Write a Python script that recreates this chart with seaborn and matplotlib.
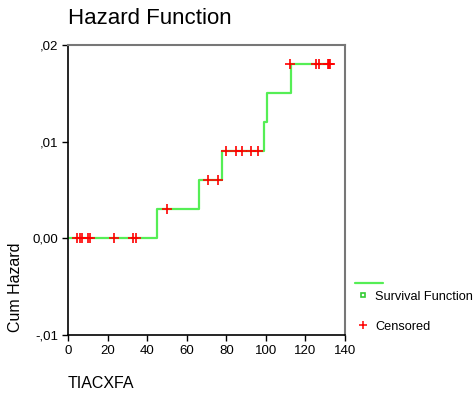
import matplotlib
matplotlib.use("Agg")
import matplotlib.pyplot as plt
from matplotlib.lines import Line2D
from matplotlib.ticker import FuncFormatter
import seaborn as sns
import pandas as pd

# Cumulative hazard step function
step_times = [0, 45, 66, 78, 99, 100.5, 112.5, 132]
cum_hazard = [0.0, 0.003, 0.006, 0.009, 0.012, 0.015, 0.018, 0.018]

# Censored observations
cens_times = [4.5, 6, 7, 10, 11, 23, 33, 34.5,
              50,
              71, 76,
              80, 85, 88, 92.5, 96,
              112, 125.5, 127, 131.5, 132, 132.5]
cens_hazard = [0.0] * 8 + [0.003] + [0.006] * 2 + [0.009] * 5 + [0.018] * 6

x_ticks = [0, 20, 40, 60, 80, 100, 120, 140]
y_ticks = [-0.01, 0.0, 0.01, 0.02]
y_tick_labels = {-0.01: "-,01", 0.0: "0,00", 0.01: ",01", 0.02: ",02"}

sns.set_style("white")
plt.rcParams["font.family"] = ["Liberation Sans", "DejaVu Sans"]
plt.rcParams["text.color"] = "black"
plt.rcParams["axes.labelcolor"] = "black"

W, H = 476, 398
fig = plt.figure(figsize=(W / 100, H / 100), dpi=100)
ax = fig.add_axes([68 / W, 1 - 335 / H, (345 - 68) / W, (335 - 45) / H])

steps = pd.DataFrame({"t": step_times, "h": cum_hazard})
cens = pd.DataFrame({"t": cens_times, "h": cens_hazard})

sns.lineplot(data=steps, x="t", y="h", drawstyle="steps-post",
             color="#55ee55", linewidth=1.6, ax=ax, estimator=None)
sns.scatterplot(data=cens, x="t", y="h", marker="+", s=45,
                color="#ff0000", linewidth=1.2, ax=ax, zorder=3)

ax.set_xlim(0, 140)
ax.set_ylim(-0.01, 0.02)
ax.set_xticks(x_ticks)
ax.set_yticks(y_ticks)
ax.yaxis.set_major_formatter(FuncFormatter(lambda v, p: y_tick_labels.get(round(v, 3), "")))
ax.set_xlabel("")
ax.set_ylabel("")
ax.tick_params(axis="both", direction="out", length=4, width=1, labelsize=9.5,
               colors="black", left=True, bottom=True, pad=3)

for side in ("left", "bottom"):
    ax.spines[side].set_color("black")
    ax.spines[side].set_linewidth(1.2)
for side in ("top", "right"):
    ax.spines[side].set_color("#777777")
    ax.spines[side].set_linewidth(1.5)

fig.text(68 / W, 1 - 18 / H, "Hazard Function", fontsize=16, ha="left", va="center")
fig.text(16 / W, 1 - 287 / H, "Cum Hazard", fontsize=11.5, rotation=90,
         ha="center", va="center")
fig.text(68 / W, 1 - 384 / H, "TIACXFA", fontsize=11.5, ha="left", va="center")

# Legend drawn beside the plot
fig.add_artist(Line2D([355 / W, 383 / W], [1 - 283 / H, 1 - 283 / H],
                      color="#55ee55", linewidth=1.6, transform=fig.transFigure))
fig.add_artist(Line2D([363 / W], [1 - 295 / H], marker="s", markersize=3.5,
                      markerfacecolor="white", markeredgecolor="#33cc33",
                      markeredgewidth=1.2, linestyle="none", transform=fig.transFigure))
fig.text(375 / W, 1 - 297 / H, "Survival Function", fontsize=9.2, ha="left", va="center")
fig.add_artist(Line2D([363 / W], [1 - 325 / H], marker="+", markersize=6,
                      color="#ff0000", markeredgewidth=1.1, linestyle="none",
                      transform=fig.transFigure))
fig.text(375 / W, 1 - 327 / H, "Censored", fontsize=9.2, ha="left", va="center")

fig.savefig("out.png", dpi=100)
